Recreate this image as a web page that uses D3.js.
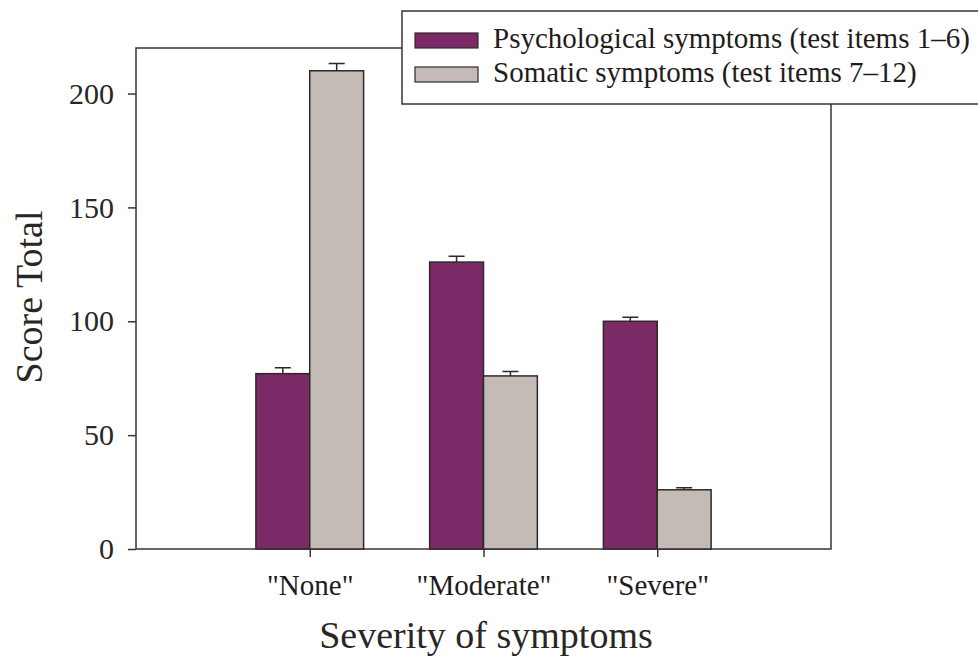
<!DOCTYPE html>
<html>
<head>
<meta charset="utf-8">
<script src="https://cdn.jsdelivr.net/npm/d3@7"></script>
<style>
  html, body { margin: 0; padding: 0; background: #fff; }
  svg { display: block; }
</style>
</head>
<body>
<svg id="chart"></svg>
<script>
const WIDTH = 978;
const HEIGHT = 659;
const MARGIN = {top: 48, right: 147, bottom: 110, left: 136};

const categories = ['"None"', '"Moderate"', '"Severe"'];
const seriesNames = ['Psychological symptoms (test items 1\u20136)', 'Somatic symptoms (test items 7\u201312)'];
const psychValues = [77, 126, 100];
const psychErrors = [2.6, 2.6, 1.8];
const somaticValues = [210, 76, 26];
const somaticErrors = [3.2, 1.9, 0.9];
const yTicks = [0, 50, 100, 150, 200];

const colors = ['#7b2a67', '#c4bbb6'];
const FONT = '"Liberation Serif", "Times New Roman", serif';

const width = WIDTH - MARGIN.left - MARGIN.right;
const height = HEIGHT - MARGIN.top - MARGIN.bottom;

const series = [
  {name: seriesNames[0], values: psychValues, errors: psychErrors},
  {name: seriesNames[1], values: somaticValues, errors: somaticErrors}
];

const x = d3.scalePoint()
  .domain(categories)
  .range([0, width])
  .padding(1);

const barWidth = x.step() * 0.31;

const y = d3.scaleLinear()
  .domain([0, 220])
  .range([height, 0]);

const svg = d3.select('#chart')
  .attr('width', WIDTH)
  .attr('height', HEIGHT);

const chart = svg.append('g')
  .attr('transform', `translate(${MARGIN.left}, ${MARGIN.top})`);

// plot frame
chart.append('rect')
  .attr('x', 0)
  .attr('y', 0)
  .attr('width', width)
  .attr('height', height)
  .attr('fill', 'none')
  .attr('stroke', '#3a3532')
  .attr('stroke-width', 1.5);

const groups = chart.selectAll('.series')
  .data(series)
  .enter()
  .append('g')
  .attr('class', 'series');

groups.each(function(s, si) {
  const g = d3.select(this);
  const rows = categories.map((c, i) => ({cat: c, value: s.values[i], err: s.errors[i]}));
  const bx = (d) => x(d.cat) + (si === 0 ? -barWidth : 0);

  // error bars (upper only)
  g.selectAll('.err')
    .data(rows)
    .enter()
    .append('path')
    .attr('class', 'err')
    .attr('d', (d) => {
      const cx = bx(d) + barWidth / 2;
      const top = y(d.value + d.err);
      return `M${cx},${y(d.value)}V${top}M${cx - 8},${top}H${cx + 8}`;
    })
    .attr('fill', 'none')
    .attr('stroke', '#2f2a28')
    .attr('stroke-width', 1.5);

  g.selectAll('.bar')
    .data(rows)
    .enter()
    .append('rect')
    .attr('class', 'bar')
    .attr('x', bx)
    .attr('y', (d) => y(d.value))
    .attr('width', barWidth)
    .attr('height', (d) => height - y(d.value))
    .attr('fill', colors[si])
    .attr('stroke', '#2f2a28')
    .attr('stroke-width', 1.5);
});

const yAxis = d3.axisLeft(y)
  .tickValues(yTicks)
  .tickSizeInner(8)
  .tickSizeOuter(0)
  .tickPadding(14);

const yg = chart.append('g').call(yAxis);
yg.select('.domain').remove();
yg.selectAll('line').attr('stroke', '#3a3532').attr('stroke-width', 1.5);
yg.selectAll('text')
  .attr('fill', '#2a2624')
  .style('font-family', FONT)
  .style('font-size', '30px');

const xAxis = d3.axisBottom(x)
  .tickSizeInner(8)
  .tickSizeOuter(0)
  .tickPadding(17);

const xg = chart.append('g')
  .attr('transform', `translate(0, ${height})`)
  .call(xAxis);
xg.select('.domain').remove();
xg.selectAll('line').attr('stroke', '#3a3532').attr('stroke-width', 1.5);
xg.selectAll('text')
  .attr('fill', '#1f1c1b')
  .style('font-family', FONT)
  .style('font-size', '29px');

// axis titles
svg.append('text')
  .attr('transform', 'translate(42, 297) rotate(-90)')
  .attr('text-anchor', 'middle')
  .attr('fill', '#2a2624')
  .style('font-family', FONT)
  .style('font-size', '38px')
  .text('Score Total');

svg.append('text')
  .attr('x', 486)
  .attr('y', 648)
  .attr('text-anchor', 'middle')
  .attr('fill', '#2a2624')
  .style('font-family', FONT)
  .style('font-size', '38px')
  .text('Severity of symptoms');

// legend
const legend = svg.append('g').attr('transform', 'translate(402, 11)');
legend.append('rect')
  .attr('x', 0)
  .attr('y', 0)
  .attr('width', 620)
  .attr('height', 93)
  .attr('fill', '#fff')
  .attr('stroke', '#3a3532')
  .attr('stroke-width', 1.5);

const items = legend.selectAll('.item')
  .data(series)
  .enter()
  .append('g')
  .attr('class', 'item')
  .attr('transform', (d, i) => `translate(13, ${22 + i * 34})`);

items.append('rect')
  .attr('width', 63)
  .attr('height', 15)
  .attr('fill', (d, i) => colors[i])
  .attr('stroke', '#2f2a28')
  .attr('stroke-width', 1.2);

items.append('text')
  .attr('x', 78)
  .attr('y', 15)
  .attr('fill', '#1f1c1b')
  .style('font-family', FONT)
  .style('font-size', '29px')
  .text((d) => d.name);
</script>
</body>
</html>
